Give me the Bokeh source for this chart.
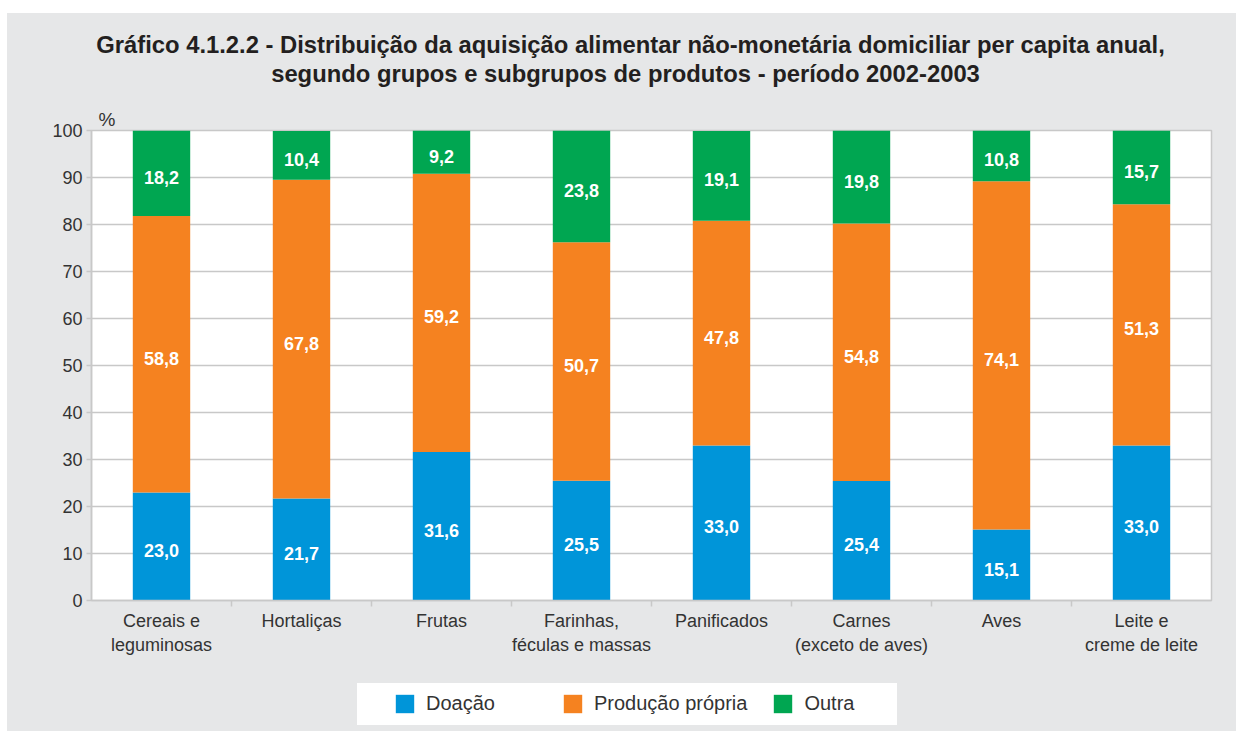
from bokeh.plotting import figure
from bokeh.models import (Range1d, FactorRange, LinearAxis, CategoricalAxis, FixedTicker,
                          Label, Legend, LegendItem, Spacer, ColumnDataSource, Title)
from bokeh.layouts import column, row
from bokeh.core.properties import value
from bokeh.embed import file_html
from bokeh.resources import INLINE

# ---------------- data ----------------
categories = ["Cereais e\nleguminosas", "Hortaliças", "Frutas", "Farinhas,\nféculas e massas",
              "Panificados", "Carnes\n(exceto de aves)", "Aves", "Leite e\ncreme de leite"]
doacao = [23.0, 21.7, 31.6, 25.5, 33.0, 25.4, 15.1, 33.0]
producao = [58.8, 67.8, 59.2, 50.7, 47.8, 54.8, 74.1, 51.3]
outra = [18.2, 10.4, 9.2, 23.8, 19.1, 19.8, 10.8, 15.7]
series = ["Doação", "Produção própria", "Outra"]
y_ticks = [0, 10, 20, 30, 40, 50, 60, 70, 80, 90, 100]

title1 = "Gráfico 4.1.2.2 - Distribuição da aquisição alimentar não-monetária domiciliar per capita anual,"
title2 = "segundo grupos e subgrupos de produtos - período 2002-2003"

# ---------------- style ----------------
BG = "#e6e7e8"
COLORS = ["#0095d9", "#f58220", "#00a651"]
GRID = "#c8c8c8"
TXT = "#333333"
FONT = "Liberation Sans"

PAGE_X0, PAGE_Y0 = 7, 13        # where the grey panel starts on the page
W = 1236 - PAGE_X0
FRAME_L, FRAME_R = 91, 1211     # page x of the plot frame
BL, BR = FRAME_L - PAGE_X0, 1236 - FRAME_R
TITLE_H = 92                    # title strip: page y 13..105
MAIN_TOP, FH, MAIN_BOTTOM = 25, 470, 66
LEG_TOP = PAGE_Y0 + TITLE_H + MAIN_TOP + FH + MAIN_BOTTOM
LEG_H = 731 - LEG_TOP

src = ColumnDataSource(dict(cat=categories, d=doacao, p=producao, o=outra))


def bare(height, x_range, y_range):
    f = figure(width=W, height=height, x_range=x_range, y_range=y_range,
               min_border_left=BL, min_border_right=BR, min_border_top=0, min_border_bottom=0,
               output_backend="svg", toolbar_location=None,
               x_axis_location=None, y_axis_location=None,
               background_fill_color=BG, border_fill_color=BG, outline_line_color=None)
    f.grid.visible = False
    return f


# ---------- title strip (ranges in page pixels) ----------
tf = bare(TITLE_H, Range1d(FRAME_L, FRAME_R), Range1d(PAGE_Y0 + TITLE_H, PAGE_Y0))
tf.add_layout(Label(x=630, y=44, text=title1, text_align="center", text_baseline="alphabetic",
                    text_font=FONT, text_font_style="bold", text_font_size="23.8px", text_color="#231f20"))
tf.add_layout(Label(x=625, y=73, text=title2, text_align="center", text_baseline="alphabetic",
                    text_font=FONT, text_font_style="bold", text_font_size="23.8px", text_color="#231f20"))

# ---------- main chart ----------
xr = FactorRange(*categories)
p = figure(x_range=xr, y_range=Range1d(0, 100),
           frame_width=FRAME_R - FRAME_L, frame_height=FH,
           min_border_left=BL, min_border_right=BR, min_border_top=MAIN_TOP,
           min_border_bottom=MAIN_BOTTOM,
           output_backend="svg", toolbar_location=None, x_axis_location=None,
           background_fill_color="white", border_fill_color=BG)

p.add_layout(Title(text="%", align="left", offset=7, standoff=2, text_font=FONT,
                   text_font_style="normal", text_font_size="19px", text_color=TXT), "above")

yax = p.yaxis[0]
yax.ticker = FixedTicker(ticks=y_ticks)
yax.axis_line_color = GRID
yax.axis_line_width = 1.5
yax.major_tick_line_color = GRID
yax.major_tick_line_width = 1.5
yax.major_tick_out = 5
yax.major_tick_in = 0
yax.minor_tick_line_color = None
yax.major_label_standoff = 4
yax.major_label_text_font = FONT
yax.major_label_text_font_size = "18px"
yax.major_label_text_color = TXT

# ticks on the boundaries between categories
bax = LinearAxis(ticker=FixedTicker(ticks=list(range(1, len(categories)))),
                 axis_line_color=GRID, axis_line_width=1.5,
                 major_tick_line_color=GRID, major_tick_line_width=1.5,
                 major_tick_out=6, major_tick_in=0, minor_tick_line_color=None,
                 major_label_text_font_size="0px", major_label_standoff=0)
bax.major_label_overrides = {i: "" for i in range(1, len(categories))}
p.add_layout(bax, "below")
cax = CategoricalAxis(axis_line_color=None, major_tick_line_color=None,
                      major_label_text_font=FONT, major_label_text_font_size="18px",
                      major_label_text_color=TXT, major_label_standoff=-2)
p.add_layout(cax, "below")

p.xgrid.grid_line_color = None
p.ygrid.ticker = FixedTicker(ticks=y_ticks)
p.ygrid.grid_line_color = GRID
p.ygrid.grid_line_width = 1.5
p.outline_line_color = GRID
p.outline_line_width = 1.5

p.vbar_stack(["d", "p", "o"], x="cat", width=0.41, color=COLORS, source=src, line_color=None)

lab_x, lab_y, lab_t = [], [], []
for i, c in enumerate(categories):
    base = 0.0
    for vals in (doacao, producao, outra):
        v = vals[i]
        lab_x.append(c)
        lab_y.append(base + v / 2)
        lab_t.append(f"{v:.1f}".replace(".", ","))
        base += v
p.text(x=lab_x, y=lab_y, text=lab_t, text_align="center", text_baseline="alphabetic",
       y_offset=4, text_color="white", text_font=value(FONT), text_font_style="bold",
       text_font_size="18px")

# ---------- legend strip ----------
lf = bare(LEG_H, xr, Range1d(0, 100))
leg_r = lf.vbar_stack(["d", "p", "o"], x="cat", width=0.41, color=COLORS, source=src, line_color=None)
for r in leg_r:
    r.visible = False
dummy = lf.vbar(x=[], top=[], width=0.1, fill_alpha=0, line_alpha=0)
box = Legend(items=[LegendItem(label=" ", renderers=[dummy])], location=(357 - FRAME_L, 731 - 725),
             orientation="horizontal", padding=0, margin=0, glyph_width=540, glyph_height=42,
             label_standoff=0, label_width=0, label_height=42, label_text_font_size="1px",
             background_fill_color="white", background_fill_alpha=1, border_line_color=None,
             click_policy="none")
lf.add_layout(box, "center")
leg = Legend(items=[LegendItem(label=s, renderers=[r]) for s, r in zip(series, leg_r)],
             location=(393 - FRAME_L, 731 - 715), orientation="horizontal",
             padding=10, margin=0, spacing=24, glyph_width=23, glyph_height=23, label_standoff=10,
             label_width=111, label_text_font=FONT, label_text_font_size="20px", label_text_color=TXT,
             label_height=23, background_fill_alpha=0, border_line_color=None,
             click_policy="none", inactive_fill_alpha=0)
lf.add_layout(leg, "center")

panel = column(tf, p, lf, styles={"background-color": BG})
layout = row(Spacer(width=PAGE_X0, height=10),
             column(Spacer(width=W, height=PAGE_Y0), panel))
open("out.html", "w").write(file_html(layout, INLINE))
